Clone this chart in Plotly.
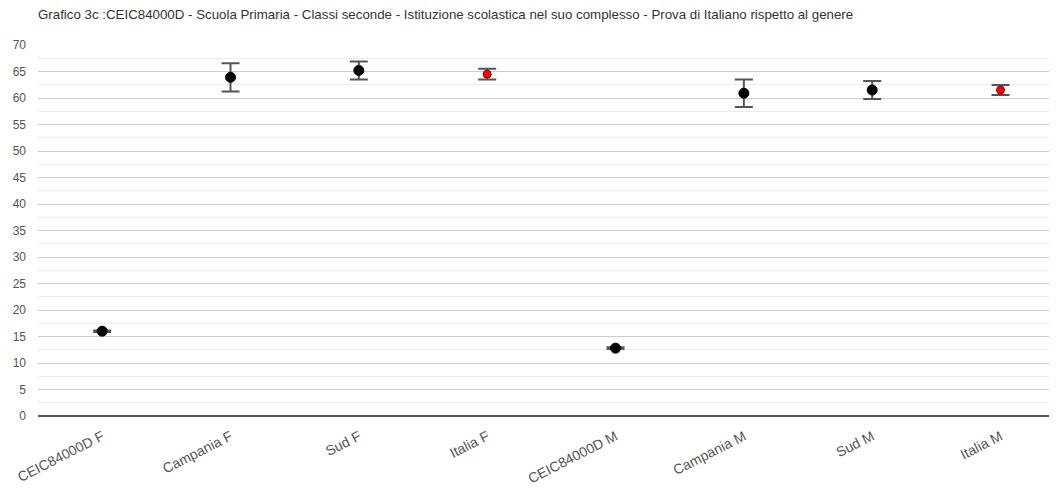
import plotly.graph_objects as go

categories = ["CEIC84000D F", "Campania F", "Sud F", "Italia F",
              "CEIC84000D M", "Campania M", "Sud M", "Italia M"]
values = [16.0, 63.9, 65.2, 64.5, 12.8, 60.9, 61.5, 61.5]
errors = [0.15, 2.65, 1.7, 1.0, 0.15, 2.6, 1.7, 0.95]
is_italia = [False, False, False, True, False, False, False, True]
y_ticks = list(range(0, 75, 5))

title_text = ("Grafico 3c :CEIC84000D - Scuola Primaria - Classi seconde - "
              "Istituzione scolastica nel suo complesso - Prova di Italiano rispetto al genere")

fig = go.Figure()
for red in (False, True):
    xs = [c for c, f in zip(categories, is_italia) if f == red]
    ys = [v for v, f in zip(values, is_italia) if f == red]
    es = [e for e, f in zip(errors, is_italia) if f == red]
    fig.add_trace(go.Scatter(
        x=xs, y=ys, mode="markers",
        marker=dict(color="#ff0000" if red else "#000000",
                    size=8 if red else 10,
                    line=dict(color="#8b0000" if red else "#000000", width=1)),
        error_y=dict(type="data", array=es, visible=True,
                     color="#555555", thickness=2, width=9),
        showlegend=False, hoverinfo="x+y"))

fig.update_layout(
    width=1049, height=485,
    margin=dict(l=30, r=0, t=37, b=77, autoexpand=False),
    paper_bgcolor="white", plot_bgcolor="white",
    font=dict(family="Arial, Liberation Sans, sans-serif", color="#444444", size=12),
    title=dict(text=title_text, x=0, xref="paper", xanchor="left",
               y=1 - 6 / 485, yref="container", yanchor="middle",
               font=dict(size=13.3, color="#333333")),
    xaxis=dict(type="category", categoryorder="array", categoryarray=categories,
               range=[-0.5, 7.44], tickangle=-27, showgrid=False,
               showline=False, zeroline=False, ticks="", automargin=False,
               ticklabelstandoff=9,
               tickfont=dict(size=14, color="#555555")),
    yaxis=dict(range=[0, 70], tickvals=y_ticks, ticks="", showline=False,
               gridcolor="#cccccc", gridwidth=1, automargin=False,
               zeroline=True, zerolinecolor="#555555", zerolinewidth=2,
               ticklabelstandoff=11,
               tickfont=dict(size=12, color="#555555"),
               minor=dict(dtick=2.5, tick0=0, showgrid=True,
                          gridcolor="#ececec", gridwidth=1)),
)

fig.write_html("out.html")
